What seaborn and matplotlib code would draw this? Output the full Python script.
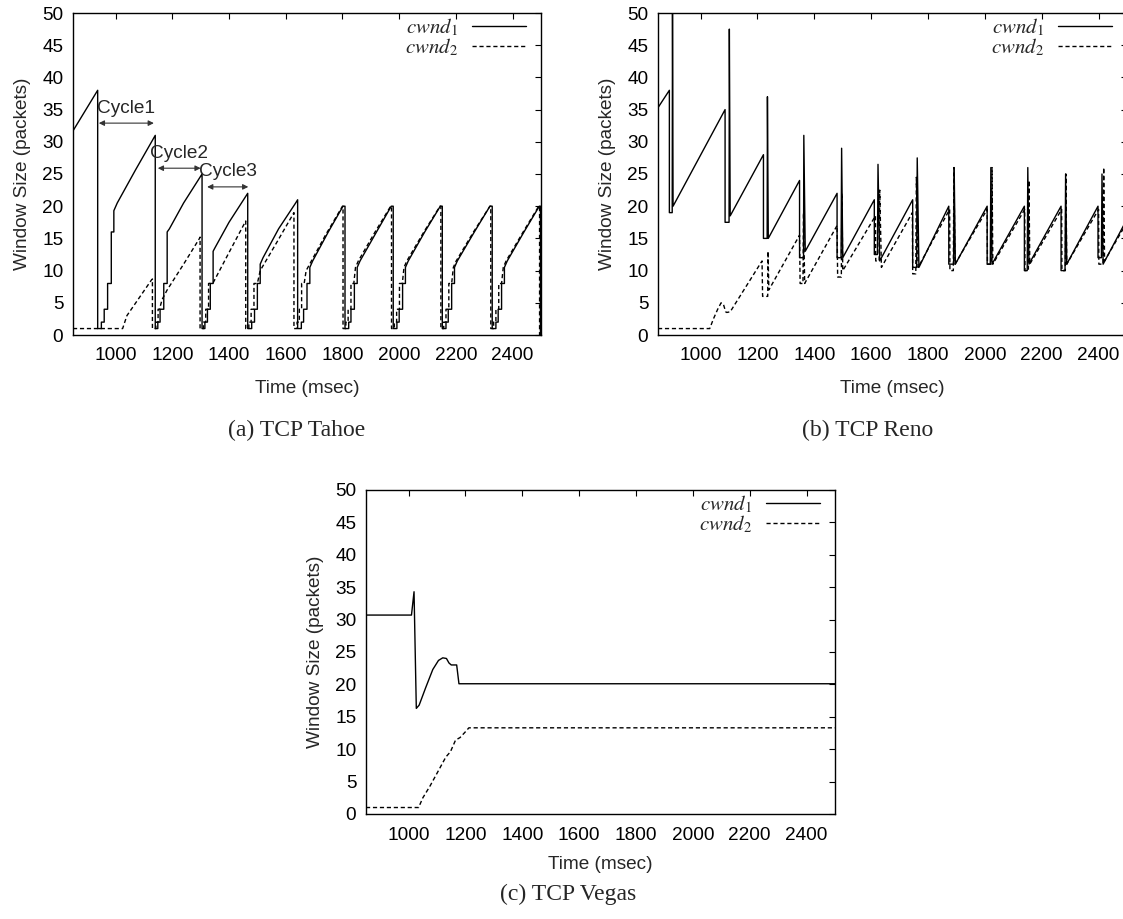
import matplotlib
matplotlib.use("Agg")
import matplotlib.pyplot as plt
import seaborn as sns

# ---------------- data ----------------
x_ticks = [1000, 1200, 1400, 1600, 1800, 2000, 2200, 2400]
y_ticks = [0, 5, 10, 15, 20, 25, 30, 35, 40, 45, 50]
series_labels = [r"$\mathit{cwnd}_1$", r"$\mathit{cwnd}_2$"]
panel_titles = ["(a) TCP Tahoe", "(b) TCP Reno", "(c) TCP Vegas"]

# TCP Tahoe
tahoe_t1 = [850, 937, 937, 950, 950, 960, 960, 972, 972, 985, 985, 994, 994, 1006, 1070, 1140,
            1140, 1149, 1149, 1157, 1157, 1170, 1170, 1182, 1182, 1190, 1240, 1305,
            1305, 1315, 1315, 1324, 1324, 1334, 1334, 1344, 1344, 1350, 1400, 1466,
            1466, 1480, 1480, 1490, 1490, 1500, 1500, 1510, 1510, 1520, 1575, 1635, 1642,
            1642, 1655, 1655, 1663, 1663, 1675, 1675, 1685, 1685, 1695, 1750, 1802, 1809,
            1809, 1822, 1822, 1830, 1830, 1842, 1842, 1852, 1852, 1862, 1920, 1972, 1979,
            1979, 1992, 1992, 2000, 2000, 2012, 2012, 2022, 2022, 2032, 2090, 2145, 2152,
            2152, 2165, 2165, 2173, 2173, 2185, 2185, 2195, 2195, 2205, 2265, 2320, 2328,
            2328, 2341, 2341, 2349, 2349, 2361, 2361, 2371, 2371, 2381, 2440, 2494, 2498, 2498]
tahoe_w1 = [31.7, 38, 1, 1, 2, 2, 4, 4, 8, 8, 16, 16, 19.3, 20.5, 25.6, 31,
            1, 1, 2, 2, 4, 4, 8, 8, 16, 16.5, 20.5, 25,
            1, 1, 2, 2, 4, 4, 8, 8, 13, 13.5, 17.5, 22,
            1, 1, 2, 2, 4, 4, 8, 8, 11, 12, 16.5, 20.5, 21,
            1, 1, 2, 2, 4, 4, 8, 8, 10.5, 11.5, 16, 20, 20,
            1, 1, 2, 2, 4, 4, 8, 8, 10.5, 11.5, 16, 20, 20,
            1, 1, 2, 2, 4, 4, 8, 8, 10.5, 11.5, 16, 20, 20,
            1, 1, 2, 2, 4, 4, 8, 8, 10.5, 11.5, 16, 20, 20,
            1, 1, 2, 2, 4, 4, 8, 8, 10.5, 11.5, 16, 20, 20, 0]
tahoe_t2 = [850, 1025, 1040, 1126, 1130,
            1130, 1142, 1142, 1150, 1150, 1155, 1164, 1182, 1240, 1296, 1298,
            1298, 1310, 1310, 1318, 1318, 1328, 1328, 1344, 1400, 1459,
            1459, 1470, 1470, 1478, 1478, 1488, 1488, 1500, 1510, 1570, 1629,
            1629, 1640, 1640, 1648, 1648, 1656, 1656, 1665, 1672, 1740, 1800, 1802,
            1802, 1812, 1812, 1820, 1820, 1830, 1830, 1840, 1846, 1856, 1915, 1970, 1973,
            1973, 1983, 1983, 1991, 1991, 2001, 2001, 2011, 2017, 2027, 2087, 2144, 2147,
            2147, 2157, 2157, 2165, 2165, 2175, 2175, 2185, 2191, 2201, 2262, 2320, 2323,
            2323, 2333, 2333, 2341, 2341, 2351, 2351, 2361, 2367, 2377, 2437, 2492, 2495, 2495]
tahoe_w2 = [1, 1, 3, 8.5, 8.7,
            1, 1, 2, 2, 4, 4, 5.5, 7, 11, 15, 15.2,
            1, 1, 2, 2, 4, 4, 8, 8.1, 12.8, 17.7,
            1, 1, 2, 2, 4, 4, 8, 8, 10, 14.5, 19,
            1, 1, 2, 2, 4, 4, 8, 8, 10, 15.5, 20, 20,
            1, 1, 2, 2, 4, 4, 8, 8, 10.5, 11.5, 16, 20, 20,
            1, 1, 2, 2, 4, 4, 8, 8, 10.5, 11.5, 16, 20, 20,
            1, 1, 2, 2, 4, 4, 8, 8, 10.5, 11.5, 16, 20, 20,
            1, 1, 2, 2, 4, 4, 8, 8, 10.5, 11.5, 16, 20, 20, 0]
cycle_names = ["Cycle1", "Cycle2", "Cycle3"]
cycle_start = [941, 1149, 1323]
cycle_end = [1135, 1300, 1468]
cycle_level = [32.9, 25.9, 23.0]

# TCP Reno
reno_t1 = [850, 890, 890, 900, 901, 903, 1086,
           1086, 1100, 1101, 1104, 1221,
           1221, 1234, 1235, 1238, 1348,
           1348, 1362, 1363, 1368, 1480,
           1480, 1494, 1496, 1500, 1611,
           1611, 1622, 1624, 1630, 1746,
           1746, 1760, 1762, 1768, 1873,
           1873, 1890, 1892, 1896, 2008,
           2008, 2019, 2021, 2025, 2139,
           2139, 2149, 2151, 2155, 2268,
           2268, 2282, 2284, 2288, 2398,
           2398, 2410, 2412, 2416, 2500]
reno_w1 = [35.3, 38, 19, 19, 52, 20, 35,
           17.5, 17.5, 47.5, 18.5, 28,
           15, 15, 37, 15, 24,
           12, 12, 31, 13, 22,
           12, 12, 29, 12, 21,
           12.5, 12.5, 26.5, 11.5, 21,
           10.5, 10.5, 27.5, 10.5, 20,
           11, 11, 26, 11, 20,
           11, 11, 26, 11, 20,
           10, 10, 26, 11, 20,
           10, 10, 25, 11, 20,
           12, 12, 25, 11, 18]
reno_t2 = [850, 1032, 1045, 1060, 1072, 1080, 1088, 1092, 1104, 1216,
           1218, 1236, 1237, 1240, 1348,
           1350, 1360, 1362, 1366, 1480,
           1482, 1495, 1497, 1500, 1615,
           1616, 1628, 1630, 1636, 1745,
           1746, 1757, 1759, 1765, 1876,
           1877, 1889, 1891, 1895, 2008,
           2009, 2023, 2025, 2028, 2140,
           2141, 2153, 2155, 2158, 2270,
           2271, 2283, 2285, 2288, 2400,
           2401, 2416, 2418, 2421, 2500]
reno_w2 = [1, 1, 2.5, 4, 5, 4.8, 3.6, 3.5, 3.6, 11.5,
           6, 6, 13, 7, 15.5,
           8, 8, 19, 8, 17,
           9, 9, 22, 10, 18.5,
           11.5, 11.5, 22.5, 10.5, 19,
           9.5, 9.5, 24.5, 10.5, 19.5,
           10, 10, 26, 11, 19.5,
           11, 11, 26, 11, 19.5,
           10, 10, 24, 11, 19.5,
           10, 10, 25, 11, 19.5,
           11, 11, 26, 11.5, 17.5]

# TCP Vegas
vegas_t1 = [850, 1010, 1019, 1027, 1037, 1060, 1085, 1105, 1120, 1133, 1142, 1150, 1169, 1177, 2500]
vegas_w1 = [30.7, 30.7, 34.3, 16.3, 16.8, 19.5, 22.3, 23.7, 24.1, 24.0, 23.3, 23.0, 23.0, 20.1, 20.1]
vegas_t2 = [850, 1035, 1050, 1075, 1100, 1131, 1147, 1165, 1181, 1200, 1212, 2500]
vegas_w2 = [1, 1, 2.5, 4.3, 6.3, 8.8, 9.6, 11.4, 11.8, 12.7, 13.3, 13.3]

# ---------------- style ----------------
sns.set_style("white")
plt.rcParams["font.family"] = ["Liberation Sans", "DejaVu Sans"]
plt.rcParams["mathtext.fontset"] = "stix"

W, H = 1123, 919
fig = plt.figure(figsize=(W / 100, H / 100), dpi=100)
FS = 13.7
DASH = (0, (3, 2))


def add_ax(l, t, r, b):
    return fig.add_axes([l / W, 1 - b / H, (r - l) / W, (b - t) / H])


def draw(ax, t1, w1, t2, w2, xpad=11):
    sns.lineplot(x=t1, y=w1, sort=False, estimator=None, ax=ax, color="black",
                 linewidth=1.0, legend=False)
    sns.lineplot(x=t2, y=w2, sort=False, estimator=None, ax=ax, color="black",
                 linewidth=1.0, linestyle=DASH, legend=False)
    ax.set_xlim(850, 2500)
    ax.set_ylim(0, 50)
    ax.set_xticks(x_ticks)
    ax.set_yticks(y_ticks)
    ax.tick_params(direction="in", top=True, right=True, length=4.5, width=0.8,
                   labelsize=FS, colors="black")
    ax.tick_params(axis="x", pad=9)
    ax.tick_params(axis="y", pad=7)
    for s in ax.spines.values():
        s.set_visible(True)
        s.set_color("black")
        s.set_linewidth(1.0)
    ax.set_xlabel("Time (msec)", fontsize=FS, labelpad=xpad)
    ax.set_ylabel("Window Size (packets)", fontsize=FS, labelpad=8)
    lines = ax.get_lines()[:2]
    ax.legend(lines, series_labels, loc="upper right", bbox_to_anchor=(0.993, 1.025),
              frameon=False, markerfirst=False, handlelength=2.6, fontsize=15,
              labelspacing=-0.1, handletextpad=0.7, borderaxespad=0.15)


ax_a = add_ax(73, 13, 541, 335)
draw(ax_a, tahoe_t1, tahoe_w1, tahoe_t2, tahoe_w2)
for name, s, e, lv in zip(cycle_names, cycle_start, cycle_end, cycle_level):
    ax_a.annotate("", xy=(s, lv), xytext=(e, lv),
                  arrowprops=dict(arrowstyle="<|-|>", lw=0.8, color="#333333",
                                  shrinkA=0, shrinkB=0, mutation_scale=8))
    ax_a.text((s + e) / 2, lv + 1.0, name, ha="center", va="bottom", fontsize=FS)

ax_b = add_ax(658, 13, 1127, 335)
draw(ax_b, reno_t1, reno_w1, reno_t2, reno_w2)

ax_c = add_ax(366, 490, 835, 814)
draw(ax_c, vegas_t1, vegas_w1, vegas_t2, vegas_w2, xpad=9)

cap_kw = dict(ha="center", va="center", fontsize=17, family="Liberation Serif")
fig.text(297 / W, 1 - 430 / H, panel_titles[0], **cap_kw)
fig.text(868 / W, 1 - 430 / H, panel_titles[1], **cap_kw)
fig.text(568 / W, 1 - 894 / H, panel_titles[2], **cap_kw)

fig.savefig("out.png", dpi=100)
